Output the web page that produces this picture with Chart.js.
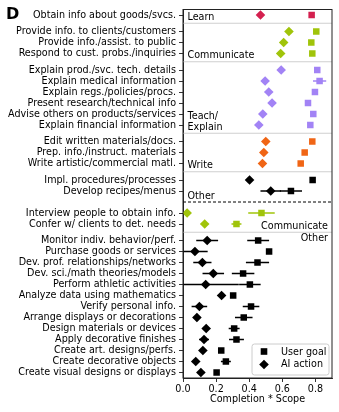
<!DOCTYPE html>
<html><head><meta charset="utf-8">
<script src="https://cdn.jsdelivr.net/npm/chart.js@4/dist/chart.umd.min.js"></script>
<style>html,body{margin:0;padding:0;background:#fff;} #wrap{position:relative;width:339px;height:412px;}</style>
</head><body><div id="wrap"><canvas id="c" width="339" height="412"></canvas></div>
<script>
// ---------------- DATA ----------------
const taskLabels = [
 'Obtain info about goods/svcs.',
 'Provide info. to clients/customers',
 'Provide info./assist. to public',
 'Respond to cust. probs./inquiries',
 'Explain prod./svc. tech. details',
 'Explain medical information',
 'Explain regs./policies/procs.',
 'Present research/technical info',
 'Advise others on products/services',
 'Explain financial information',
 'Edit written materials/docs.',
 'Prep. info./instruct. materials',
 'Write artistic/commercial matl.',
 'Impl. procedures/processes',
 'Develop recipes/menus',
 'Interview people to obtain info.',
 'Confer w/ clients to det. needs',
 'Monitor indiv. behavior/perf.',
 'Purchase goods or services',
 'Dev. prof. relationships/networks',
 'Dev. sci./math theories/models',
 'Perform athletic activities',
 'Analyze data using mathematics',
 'Verify personal info.',
 'Arrange displays or decorations',
 'Design materials or devices',
 'Apply decorative finishes',
 'Create art. designs/perfs.',
 'Create decorative objects',
 'Create visual designs or displays'
];
const taskCategory = [
 'Learn',
 'Communicate','Communicate','Communicate',
 'Teach/Explain','Teach/Explain','Teach/Explain','Teach/Explain','Teach/Explain','Teach/Explain',
 'Write','Write','Write',
 'Other','Other',
 'Communicate','Communicate',
 'Other','Other','Other','Other','Other','Other','Other','Other','Other','Other','Other','Other','Other'
];
const taskSection = [
 'top','top','top','top','top','top','top','top','top','top','top','top','top','top','top',
 'bottom','bottom','bottom','bottom','bottom','bottom','bottom','bottom','bottom','bottom','bottom','bottom','bottom','bottom','bottom'
];
const userGoal = [0.777,0.805,0.775,0.781,0.811,0.825,0.797,0.755,0.787,0.769,0.781,0.735,0.711,0.783,0.652,
 0.474,0.323,0.454,0.520,0.450,0.363,0.404,0.303,0.411,0.367,0.309,0.323,0.231,0.259,0.203];
const userGoalErr = [0,0,0,0,0,0.04,0,0,0,0,0,0,0,0,0.067,
 0.08,0.03,0.066,0.01,0.07,0.068,0.065,0.01,0.05,0.053,0.033,0.045,0.01,0.03,0.01];
const aiAction = [0.468,0.640,0.608,0.590,0.593,0.496,0.518,0.538,0.482,0.458,0.500,0.488,0.480,0.402,0.530,
 0.025,0.131,0.146,0.072,0.117,0.183,0.137,0.233,0.099,0.084,0.140,0.127,0.120,0.077,0.108];
const aiActionErr = [0,0,0,0,0,0,0,0,0,0,0,0,0,0,0.062,
 0,0,0.066,0.077,0.055,0.065,0.2,0.01,0.047,0.02,0.01,0.03,0.01,0.01,0.015];
const xTickValues = [0,0.2,0.4,0.6,0.8];
const xAxisTitle = 'Completion * Scope';
const legendLabels = ['User goal','AI action'];
const panelLetter = 'D';

// ---------------- STYLE ----------------
const catColor = {'Learn':'#d4204f','Communicate':'#a0c40a','Teach/Explain':'#a283f5','Write':'#f06515','Other':'#000000'};
const FONT = 'DejaVu Sans';
const FS = 9.6;

// layout positions (rows with gaps between blocks)
const positions = [];
{ let off = 0;
  for (let i=0;i<taskLabels.length;i++){
    if (i>0){
      if (taskSection[i]!==taskSection[i-1]) off += 1.0;
      else if (taskCategory[i]!==taskCategory[i-1]) off += 0.5;
    }
    positions.push(i+off);
  }
}
const blocks = [];
for (let i=0;i<taskLabels.length;i++){
  const b = blocks[blocks.length-1];
  if (b && b.cat===taskCategory[i] && b.sec===taskSection[i]) b.end=i;
  else blocks.push({cat:taskCategory[i],sec:taskSection[i],start:i,end:i});
}
const colors = taskCategory.map(c=>catColor[c]);

const decor = {
  id:'decor',
  beforeDatasetsDraw(chart){
    const {ctx, chartArea:a, scales:{x,y}} = chart;
    ctx.save();
    ctx.beginPath(); ctx.rect(a.left,a.top,a.right-a.left,a.bottom-a.top); ctx.clip();
    // separators
    for (let k=1;k<blocks.length;k++){
      const prev=blocks[k-1], cur=blocks[k];
      const yy = y.getPixelForValue((positions[prev.end]+positions[cur.start])/2);
      ctx.beginPath();
      if (prev.sec!==cur.sec){ ctx.setLineDash([3,2]); ctx.strokeStyle='#000'; }
      else { ctx.setLineDash([]); ctx.strokeStyle='#cfcfcf'; }
      ctx.lineWidth=1;
      ctx.moveTo(a.left,yy); ctx.lineTo(a.right,yy); ctx.stroke();
    }
    ctx.setLineDash([]);
    // error bars
    chart.data.datasets.forEach(ds=>{
      ds.data.forEach((p,i)=>{
        const e = ds.errs[i]; if (!e) return;
        const yy = y.getPixelForValue(p.y);
        ctx.beginPath(); ctx.strokeStyle = colors[i]; ctx.lineWidth=1.5;
        ctx.moveTo(x.getPixelForValue(p.x-e),yy); ctx.lineTo(x.getPixelForValue(p.x+e),yy); ctx.stroke();
      });
    });
    ctx.restore();
  },
  afterDatasetsDraw(chart){
    const {ctx, chartArea:a, scales:{x,y}} = chart;
    ctx.save();
    ctx.font = `${FS}px "${FONT}"`;
    ctx.fillStyle = '#000';
    const bound = (k)=> k<blocks.length-1 ? y.getPixelForValue((positions[blocks[k].end]+positions[blocks[k+1].start])/2) : a.bottom;
    blocks.forEach((b,k)=>{
      const lines = b.cat==='Teach/Explain' ? ['Teach/','Explain'] : [b.cat];
      if (b.sec==='top'){
        ctx.textAlign='left'; ctx.textBaseline='bottom';
        const yb = bound(k)-1;
        lines.slice().reverse().forEach((t,j)=>ctx.fillText(t,a.left+4.5,yb-j*11));
      } else {
        ctx.textAlign='right';
        const first = k===0 || blocks[k-1].sec!==b.sec;
        if (first){ ctx.textBaseline='bottom'; ctx.fillText(lines[0],a.right-4,bound(k)-1); }
        else { ctx.textBaseline='top'; ctx.fillText(lines[0],a.right-4,bound(k-1)+1); }
      }
    });
    // legend
    const bx=a.right-80, by=a.bottom-34, bw=77, bh=31;
    ctx.beginPath(); ctx.roundRect(bx,by,bw,bh,2.5);
    ctx.fillStyle='rgba(255,255,255,0.85)'; ctx.fill();
    ctx.strokeStyle='#cccccc'; ctx.lineWidth=1; ctx.stroke();
    ctx.fillStyle='#000';
    const mx=bx+12;
    ctx.fillRect(mx-3.3,by+7.5-3.3,6.6,6.6);
    ctx.beginPath(); const dy=by+20.5, r=4.8;
    ctx.moveTo(mx,dy-r); ctx.lineTo(mx+r,dy); ctx.lineTo(mx,dy+r); ctx.lineTo(mx-r,dy); ctx.closePath(); ctx.fill();
    ctx.textAlign='left'; ctx.textBaseline='middle';
    ctx.fillText(legendLabels[0],bx+29,by+8);
    ctx.fillText(legendLabels[1],bx+29,by+20.5);
    // frame
    ctx.strokeStyle='#222'; ctx.lineWidth=1;
    ctx.strokeRect(a.left,a.top,a.right-a.left,a.bottom-a.top);
    // panel letter
    ctx.font = `bold 16px "${FONT}"`;
    ctx.textAlign='left'; ctx.textBaseline='middle';
    ctx.fillText(panelLetter,6,15);
    ctx.restore();
  }
};

new Chart(document.getElementById('c').getContext('2d'), {
  type:'scatter',
  data:{datasets:[
    {label:legendLabels[0], data:userGoal.map((v,i)=>({x:v,y:positions[i]})), errs:userGoalErr,
     pointStyle:'rect', pointRadius:4.6, pointHoverRadius:4.6, backgroundColor:colors, borderWidth:0},
    {label:legendLabels[1], data:aiAction.map((v,i)=>({x:v,y:positions[i]})), errs:aiActionErr,
     pointStyle:'rectRot', pointRadius:4.8, pointHoverRadius:4.8, backgroundColor:colors, borderWidth:0}
  ]},
  options:{
    animation:false, responsive:false, devicePixelRatio:1,
    layout:{padding:{top:9.5,right:7,left:0,bottom:0}},
    plugins:{legend:{display:false}, tooltip:{enabled:false}},
    scales:{
      x:{type:'linear', min:0, max:0.9, position:'bottom',
        afterBuildTicks:s=>{ s.ticks = xTickValues.map(v=>({value:v})); },
        ticks:{callback:v=>Number(v).toFixed(1), font:{family:FONT,size:FS}, color:'#000', padding:2, maxRotation:0, autoSkip:false},
        grid:{display:true, drawOnChartArea:false, drawTicks:true, tickLength:4, color:'#000', lineWidth:0.8},
        border:{display:true, color:'#222'},
        title:{display:true, text:xAxisTitle, font:{family:FONT,size:FS}, color:'#000', padding:{top:0,bottom:7}},
        afterFit:s=>{ s.height=34; }
      },
      y:{type:'linear', min:-0.5, max:33, reverse:true,
        afterBuildTicks:s=>{ s.ticks = positions.map(v=>({value:v})); },
        ticks:{callback:(v,i)=>taskLabels[i], font:{family:FONT,size:FS}, color:'#000', padding:3, autoSkip:false},
        grid:{display:true, drawOnChartArea:false, drawTicks:true, tickLength:4, color:'#000', lineWidth:0.8},
        border:{display:true, color:'#222'},
        afterFit:s=>{ s.width=183; }
      }
    }
  },
  plugins:[decor]
});
</script></body></html>
